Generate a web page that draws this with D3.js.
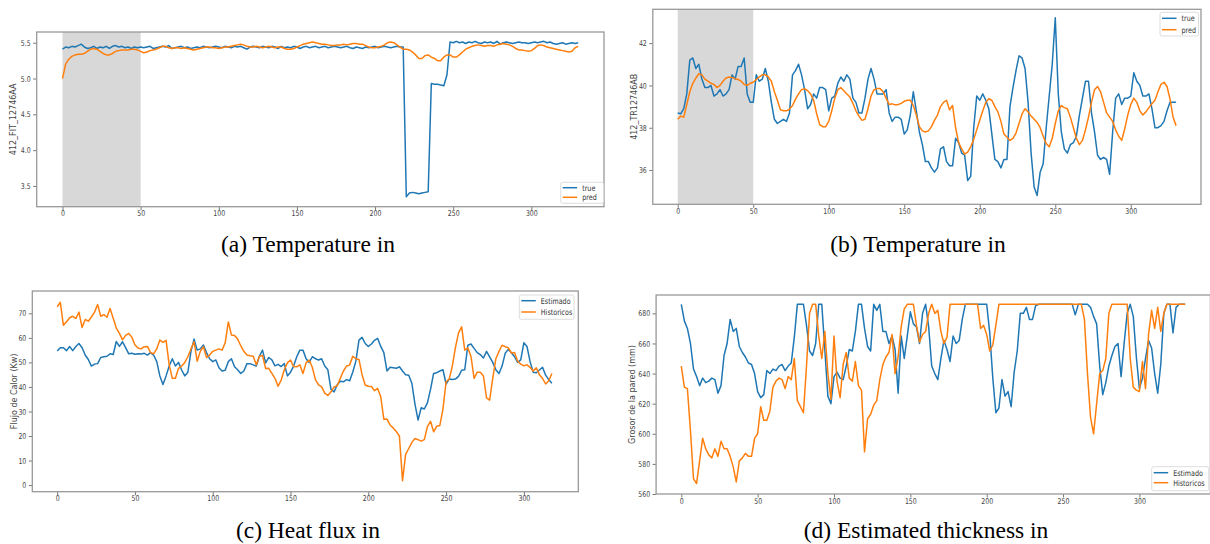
<!DOCTYPE html>
<html lang="en">
<head>
  <meta charset="UTF-8">
  <title>Temperature / heat flux / thickness panels</title>
  <style>
    body { margin: 0; background: #fff; }
    svg { display: block; }
    .caption { font-family: 'Liberation Serif', 'Times New Roman', serif; font-size: 23.5px; fill: #000; }
  </style>
</head>
<body>
  <script src="https://cdnjs.cloudflare.com/ajax/libs/d3/7.8.5/d3.min.js"></script>
  <script>
    // samples are read every 2 time steps
    var STEP = 2;
    var xTicks = [0, 50, 100, 150, 200, 250, 300];
    var aYTicks = [3.5, 4.0, 4.5, 5.0, 5.5];
    var bYTicks = [36, 38, 40, 42];
    var cYTicks = [0, 10, 20, 30, 40, 50, 60, 70];
    var dYTicks = [560, 580, 600, 620, 640, 660, 680];
    var shadeRange = [0, 50];

    var aLabels = ['true', 'pred'];
    var cLabels = ['Estimado', 'Historicos'];
    var yLabels = ['412_FIT_12746AA', '412_TR12746AB', 'Flujo de Calor (Kw)', 'Grosor de la pared (mm)'];
    var captions = ['(a) Temperature in', '(b) Temperature in', '(c) Heat flux in', '(d) Estimated thickness in'];

    var aTrue = [
      5.41,5.44,5.43,5.45,5.44,5.46,5.48,5.44,5.42,5.43,
      5.45,5.42,5.44,5.43,5.45,5.42,5.45,5.46,5.44,5.45,
      5.43,5.44,5.42,5.44,5.43,5.44,5.43,5.44,5.45,5.42,
      5.43,5.44,5.45,5.44,5.46,5.42,5.43,5.44,5.45,5.43,
      5.44,5.42,5.43,5.44,5.43,5.45,5.44,5.43,5.44,5.45,
      5.44,5.43,5.45,5.44,5.43,5.45,5.44,5.45,5.43,5.41,
      5.44,5.45,5.44,5.43,5.45,5.44,5.43,5.45,5.44,5.42,
      5.45,5.43,5.44,5.43,5.45,5.44,5.42,5.44,5.45,5.43,
      5.44,5.45,5.43,5.44,5.45,5.43,5.44,5.45,5.44,5.43,
      5.44,5.45,5.43,5.42,5.44,5.43,5.42,5.44,5.43,5.44,
      5.45,5.43,5.44,5.45,5.44,5.43,5.44,5.45,5.44,5.44,
      3.35,3.40,3.41,3.40,3.39,3.40,3.41,3.42,4.93,4.92,
      4.92,4.91,4.90,5.05,5.51,5.50,5.52,5.50,5.51,5.49,
      5.51,5.50,5.52,5.50,5.49,5.51,5.50,5.51,5.49,5.52,
      5.48,5.50,5.51,5.50,5.49,5.50,5.51,5.50,5.50,5.49,
      5.50,5.51,5.50,5.51,5.52,5.50,5.51,5.49,5.48,5.49,
      5.50,5.48,5.49,5.50,5.49,5.50
    ];
    var aPred = [
      5.00,5.20,5.27,5.31,5.33,5.34,5.34,5.35,5.38,5.41,
      5.42,5.41,5.38,5.35,5.33,5.33,5.35,5.38,5.39,5.40,
      5.40,5.40,5.41,5.41,5.40,5.38,5.36,5.37,5.39,5.40,
      5.41,5.43,5.45,5.45,5.43,5.42,5.43,5.43,5.42,5.43,
      5.42,5.41,5.40,5.41,5.42,5.43,5.44,5.44,5.43,5.43,
      5.42,5.43,5.44,5.44,5.45,5.46,5.47,5.48,5.47,5.45,
      5.44,5.44,5.45,5.44,5.43,5.44,5.45,5.44,5.43,5.44,
      5.44,5.42,5.41,5.41,5.42,5.44,5.46,5.48,5.49,5.50,
      5.51,5.50,5.49,5.48,5.48,5.47,5.46,5.46,5.47,5.47,
      5.48,5.47,5.48,5.49,5.49,5.48,5.48,5.46,5.44,5.43,
      5.43,5.44,5.45,5.47,5.50,5.51,5.50,5.47,5.44,5.41,
      5.41,5.40,5.37,5.33,5.28,5.28,5.32,5.33,5.30,5.28,
      5.25,5.25,5.30,5.33,5.33,5.30,5.30,5.33,5.37,5.41,
      5.43,5.45,5.46,5.47,5.46,5.45,5.46,5.46,5.45,5.47,
      5.48,5.49,5.48,5.47,5.45,5.42,5.40,5.40,5.39,5.38,
      5.39,5.42,5.46,5.47,5.46,5.44,5.43,5.42,5.41,5.40,
      5.39,5.38,5.37,5.38,5.43,5.45
    ];

    var bTrue = [
      38.7,38.66,38.9,39.6,41.2,41.3,40.8,41.0,40.3,39.9,
      39.9,40.0,39.5,39.6,39.8,39.5,39.6,39.8,40.5,40.3,
      40.9,40.9,41.3,39.6,39.2,39.2,40.5,40.2,40.3,40.8,
      40.2,39.2,38.4,38.2,38.3,38.4,38.3,38.7,40.5,40.7,
      41.0,40.5,39.8,38.9,39.1,39.6,39.4,39.9,39.9,39.8,
      38.8,39.4,39.5,40.1,40.4,40.2,40.5,40.3,39.4,39.2,
      38.7,38.7,39.4,40.3,40.8,40.3,39.6,39.6,39.6,39.8,
      38.7,38.3,38.5,38.5,38.4,37.7,37.9,38.6,39.7,38.8,
      37.8,37.2,36.4,36.4,36.1,35.9,36.1,37.0,37.1,36.4,
      36.2,36.2,37.5,37.3,36.8,36.7,35.5,35.7,38.0,39.5,
      39.3,39.6,39.3,38.9,37.7,36.5,36.4,36.1,36.5,36.5,
      39.0,39.9,40.7,41.4,41.3,40.8,39.2,36.8,35.2,34.8,
      35.9,36.3,38.0,39.5,41.0,43.2,39.6,37.8,37.0,36.8,
      37.2,37.3,37.6,38.6,39.4,40.2,40.2,38.7,37.8,36.7,
      36.5,36.6,36.5,35.8,37.8,39.4,39.6,39.1,39.4,39.4,
      39.5,40.6,40.2,40.0,39.5,39.5,39.6,38.9,38.0,38.0,
      38.1,38.3,38.8,39.2,39.2,39.2
    ];
    var bPred = [
      38.4,38.55,38.5,39.1,39.7,40.1,40.35,40.55,40.5,40.3,
      40.2,40.1,40.05,39.9,40.0,40.2,40.35,40.4,40.38,40.32,
      40.28,40.2,40.05,40.0,40.1,40.15,40.28,40.4,40.5,40.5,
      40.4,40.2,39.7,39.3,38.85,38.8,38.8,38.88,39.05,39.35,
      39.6,39.8,39.85,39.75,39.6,39.3,38.66,38.15,38.05,38.05,
      38.3,38.8,39.4,39.8,39.9,39.75,39.6,39.45,39.15,38.8,
      38.55,38.35,38.4,38.9,39.5,39.8,39.85,39.85,39.7,39.4,
      39.1,39.13,39.08,39.1,39.15,39.25,39.3,39.3,39.05,38.6,
      38.05,37.85,37.8,37.85,38.05,38.35,38.6,39.0,39.2,39.3,
      38.85,39.05,38.0,37.3,37.0,36.75,36.85,37.1,37.45,37.9,
      38.35,38.8,39.2,39.37,39.3,39.0,38.75,38.3,37.7,37.56,
      37.4,37.5,37.75,38.2,38.65,38.9,38.75,38.55,38.4,38.25,
      38.0,37.6,37.25,37.1,37.5,38.2,38.8,39.05,38.95,38.9,
      38.5,38.0,37.5,37.2,37.4,37.9,38.5,39.2,39.8,39.95,
      39.7,39.2,38.7,38.5,38.3,37.9,37.6,37.4,37.95,38.6,
      39.1,39.4,39.2,38.8,38.6,38.75,38.95,39.13,39.3,39.7,
      40.05,40.15,39.95,39.35,38.5,38.1
    ];

    var cEst = [
      54.6,56.0,56.0,54.8,56.5,54.8,56.5,57.7,56.0,53.0,
      51.2,48.5,49.3,49.5,52.0,52.3,52.5,53.5,53.2,58.5,
      56.5,58.4,56.0,53.5,53.7,53.3,53.5,53.4,53.7,53.0,
      54.0,53.0,50.3,44.5,41.0,44.5,48.5,51.5,48.5,50.0,
      46.9,44.5,46.0,54.5,59.5,55.0,55.5,57.1,54.0,51.5,
      50.3,51.0,47.8,46.5,46.8,50.3,51.5,48.2,47.0,45.5,
      46.5,49.5,49.5,49.0,48.5,52.5,55.0,49.8,52.0,51.0,
      48.6,49.2,48.3,49.5,44.5,46.0,48.5,52.3,55.0,55.0,
      51.5,50.0,52.3,51.5,51.0,51.5,48.5,47.0,39.0,38.0,
      40.9,42.3,42.1,43.0,42.5,46.0,50.5,59.1,60.2,57.7,
      56.5,57.5,59.0,59.8,56.5,54.0,46.5,48.0,47.8,47.6,
      48.2,46.5,45.0,44.8,41.5,33.0,26.5,31.5,31.0,33.5,
      39.0,45.5,45.8,46.5,47.0,41.2,43.2,43.0,43.2,44.3,
      46.8,47.0,57.0,57.5,55.7,54.0,53.2,51.8,54.5,52.3,
      50.0,47.0,45.5,48.5,53.7,55.3,53.9,52.3,50.0,51.0,
      58.0,56.5,50.3,46.0,45.8,46.9,48.0,44.8,43.0,41.5
    ];
    var cHist = [
      72.7,74.5,65.1,66.6,68.2,68.8,67.9,70.5,64.2,67.5,
      66.8,68.5,70.5,73.6,68.8,69.5,68.4,72.0,68.0,64.0,
      61.8,59.2,61.0,61.8,60.3,57.1,55.9,55.5,56.4,56.5,
      54.0,53.5,55.5,59.1,58.2,59.0,49.0,43.5,43.5,47.6,
      48.5,50.0,52.3,55.5,58.4,50.5,54.5,56.4,52.0,53.0,
      54.5,55.0,55.5,55.0,58.0,66.5,61.2,61.0,59.5,56.8,
      54.5,53.0,52.7,52.5,49.0,52.5,52.8,47.5,47.6,45.5,
      43.5,40.3,42.8,47.0,49.8,51.0,48.3,48.2,49.0,45.5,
      49.8,51.0,48.0,43.0,40.8,40.0,37.5,36.5,38.0,40.0,
      40.5,43.5,46.5,48.5,48.9,52.5,51.5,51.2,45.0,40.8,
      40.3,40.2,38.5,39.4,36.0,26.8,26.9,24.5,23.3,21.8,
      20.0,1.8,12.5,14.9,17.4,19.0,18.5,17.9,18.5,23.8,
      26.0,21.7,24.0,24.3,31.0,42.1,43.2,48.5,56.0,62.0,
      64.5,55.0,55.9,52.5,43.5,46.0,46.0,44.5,35.5,34.6,
      43.5,51.5,54.5,57.0,56.4,56.0,53.8,54.0,50.5,49.3,
      48.6,49.0,48.0,46.5,47.8,45.0,43.5,41.2,42.5,45.5
    ];

    var dEst = [
      686,675,670,660,643,638,632,637,634,635,
      637,636,627,632,652,660,676,668,670,658,
      654,651,647,646,640,628,624,626,642,640,
      643,642,645,646,642,645,647,664,686,686,
      686,672,655,652,660,686,686,656,625,620,
      638,641,637,636,645,656,655,668,686,686,
      670,658,655,686,682,686,668,668,660,665,
      656,627,665,650,665,681,673,671,660,680,
      686,671,645,640,636,650,662,656,648,665,
      660,662,676,686,686,686,686,686,686,686,
      686,667,637,614,617,636,625,628,618,641,
      655,680,680,684,676,676,685,686,686,686,
      686,686,686,686,686,686,686,686,686,679,
      686,686,686,686,684,678,673,645,626,634,
      645,652,658,660,638,660,680,686,678,651,
      630,637,650,662,657,640,627,646,680,686,
      686,667,684,686,686,686
    ];
    var dHist = [
      645,631,630,602,570,567,582,597,590,586,
      584,590,585,595,590,590,585,578,568,582,
      584,587,585,585,597,600,618,609,609,615,
      631,635,637,636,630,638,636,650,622,618,
      614,645,680,686,686,665,650,668,640,623,
      665,635,624,646,654,637,635,648,632,629,
      588,610,613,619,622,636,646,651,654,666,
      640,651,671,683,686,686,686,672,661,666,
      668,680,686,680,682,668,660,664,686,686,
      686,686,686,686,686,686,686,686,670,672,
      666,655,659,672,686,686,686,686,686,686,
      686,686,686,686,686,686,686,686,686,686,
      686,686,686,686,686,686,686,686,686,686,
      686,686,676,640,611,600,620,640,642,650,
      680,686,686,686,686,686,686,650,631,629,
      628,648,630,666,682,670,684,668,680,686,
      686,686,686,686,686,686
    ];

    var BLUE = '#1f77b4', ORANGE = '#ff7f0e';
    var TEXT_SQUEEZE = 0.78;

    var svg = d3.select('body').append('svg')
                .attr('width', 1210)
                .attr('height', 544);

    var panels = [
      {id: 'a', box: {left: 36.7, right: 604, top: 32, bottom: 206.7},
       xDomain: [-16.5, 346.5], yDomain: [3.21, 5.65], yTicks: aYTicks, yFormat: '.1f',
       shade: shadeRange, yLabel: yLabels[0], yLabelX: 13, caption: captions[0], capX: 308, capY: 252,
       series: [{name: aLabels[0], values: aTrue, color: BLUE}, {name: aLabels[1], values: aPred, color: ORANGE}],
       legend: {x: 560.7, y: 182.3, w: 43, h: 21, first: 5.4, gap: 9.6}},
      {id: 'b', box: {left: 652.8, right: 1201, top: 9.3, bottom: 204.3},
       xDomain: [-16.5, 346.5], yDomain: [34.38, 43.6], yTicks: bYTicks, yFormat: 'd',
       shade: shadeRange, yLabel: yLabels[1], yLabelX: 634, caption: captions[1], capX: 918, capY: 252,
       series: [{name: aLabels[0], values: bTrue, color: BLUE}, {name: aLabels[1], values: bPred, color: ORANGE}],
       legend: {x: 1160, y: 12.3, w: 38.5, h: 23.7, first: 6, gap: 11.4}},
      {id: 'c', box: {left: 32.3, right: 578.3, top: 291, bottom: 491.7},
       xDomain: [-16, 335], yDomain: [-2.7, 79.1], yTicks: cYTicks, yFormat: 'd',
       shade: null, yLabel: yLabels[2], yLabelX: 14, caption: captions[2], capX: 308, capY: 538,
       series: [{name: cLabels[0], values: cEst, color: BLUE}, {name: cLabels[1], values: cHist, color: ORANGE}],
       legend: {x: 519.3, y: 295, w: 54.7, h: 24.3, first: 5.7, gap: 11.3}},
      {id: 'd', box: {left: 656.1, right: 1210.4, top: 295, bottom: 494},
       xDomain: [-16.5, 346.5], yDomain: [560, 692.2], yTicks: dYTicks, yFormat: 'd',
       shade: null, yLabel: yLabels[3], yLabelX: 632, caption: captions[3], capX: 926, capY: 538,
       series: [{name: cLabels[0], values: dEst, color: BLUE}, {name: cLabels[1], values: dHist, color: ORANGE}],
       legend: {x: 1151.7, y: 466.7, w: 57, h: 24, first: 6, gap: 10}}
    ];

    function drawPanel(p) {
      var b = p.box;
      var x = d3.scaleLinear().domain(p.xDomain).range([b.left, b.right]);
      var y = d3.scaleLinear().domain(p.yDomain).range([b.bottom, b.top]);
      var g = svg.append('g');

      g.append('clipPath').attr('id', 'clip-' + p.id)
        .append('rect')
          .attr('x', b.left).attr('y', b.top)
          .attr('width', b.right - b.left).attr('height', b.bottom - b.top);

      // training window
      if (p.shade) {
        g.append('rect')
          .attr('x', x(p.shade[0]))
          .attr('y', b.top)
          .attr('width', x(p.shade[1]) - x(p.shade[0]))
          .attr('height', b.bottom - b.top)
          .attr('fill', '#d8d8d8');
      }

      var line = d3.line()
        .x(function(d, i) { return x(i * STEP); })
        .y(function(d) { return y(d); });

      p.series.forEach(function(s) {
        g.append('path')
          .attr('d', line(s.values))
          .attr('fill', 'none')
          .attr('stroke', s.color)
          .attr('stroke-width', 1.5)
          .attr('stroke-linejoin', 'round')
          .attr('clip-path', 'url(#clip-' + p.id + ')');
      });

      // axes
      var gx = g.append('g')
        .attr('transform', 'translate(0,' + b.bottom + ')')
        .call(d3.axisBottom(x).tickValues(xTicks).tickSize(3.5).tickPadding(0.5).tickFormat(d3.format('d')));
      var gy = g.append('g')
        .attr('transform', 'translate(' + b.left + ',0)')
        .call(d3.axisLeft(y).tickValues(p.yTicks).tickSize(3.5).tickPadding(4.2).tickFormat(d3.format(p.yFormat)));

      [gx, gy].forEach(function(ax) {
        ax.select('.domain').remove();
        ax.selectAll('line').attr('stroke', '#555').attr('stroke-width', 0.8);
        ax.selectAll('text')
          .attr('fill', '#444')
          .attr('font-size', 8)
          .attr('font-family', 'DejaVu Sans, sans-serif')
          .attr('transform', 'scale(' + TEXT_SQUEEZE + ',1)');
      });

      g.append('text')
        .attr('transform', 'translate(' + p.yLabelX + ',' + ((b.top + b.bottom) / 2) + ') rotate(-90)')
        .attr('dy', '0.35em')
        .attr('text-anchor', 'middle')
        .attr('font-family', 'DejaVu Sans, sans-serif')
        .attr('font-size', 8)
        .attr('fill', '#444')
        .text(p.yLabel);

      // frame
      g.append('rect')
        .attr('x', b.left).attr('y', b.top)
        .attr('width', b.right - b.left).attr('height', b.bottom - b.top)
        .attr('fill', 'none')
        .attr('stroke', '#999')
        .attr('stroke-width', 1.3);

      // legend
      var lg = p.legend;
      g.append('rect')
        .attr('x', lg.x).attr('y', lg.y)
        .attr('width', lg.w).attr('height', lg.h)
        .attr('rx', 2)
        .attr('fill', '#fff').attr('fill-opacity', 0.85)
        .attr('stroke', '#d4d4d4').attr('stroke-width', 0.8);
      p.series.forEach(function(s, i) {
        var cy = lg.y + lg.first + i * lg.gap;
        g.append('line')
          .attr('x1', lg.x + 2).attr('x2', lg.x + 16.5)
          .attr('y1', cy).attr('y2', cy)
          .attr('stroke', s.color).attr('stroke-width', 1.5);
        g.append('text')
          .attr('transform', 'translate(' + (lg.x + 21.5) + ',' + cy + ') scale(0.8,1)')
          .attr('dy', '0.35em')
          .attr('font-family', 'DejaVu Sans, sans-serif')
          .attr('font-size', 8)
          .attr('fill', '#333')
          .text(s.name);
      });

      svg.append('text')
        .attr('class', 'caption')
        .attr('x', p.capX)
        .attr('y', p.capY)
        .attr('text-anchor', 'middle')
        .text(p.caption);
    }

    panels.forEach(drawPanel);
  </script>
</body>
</html>
